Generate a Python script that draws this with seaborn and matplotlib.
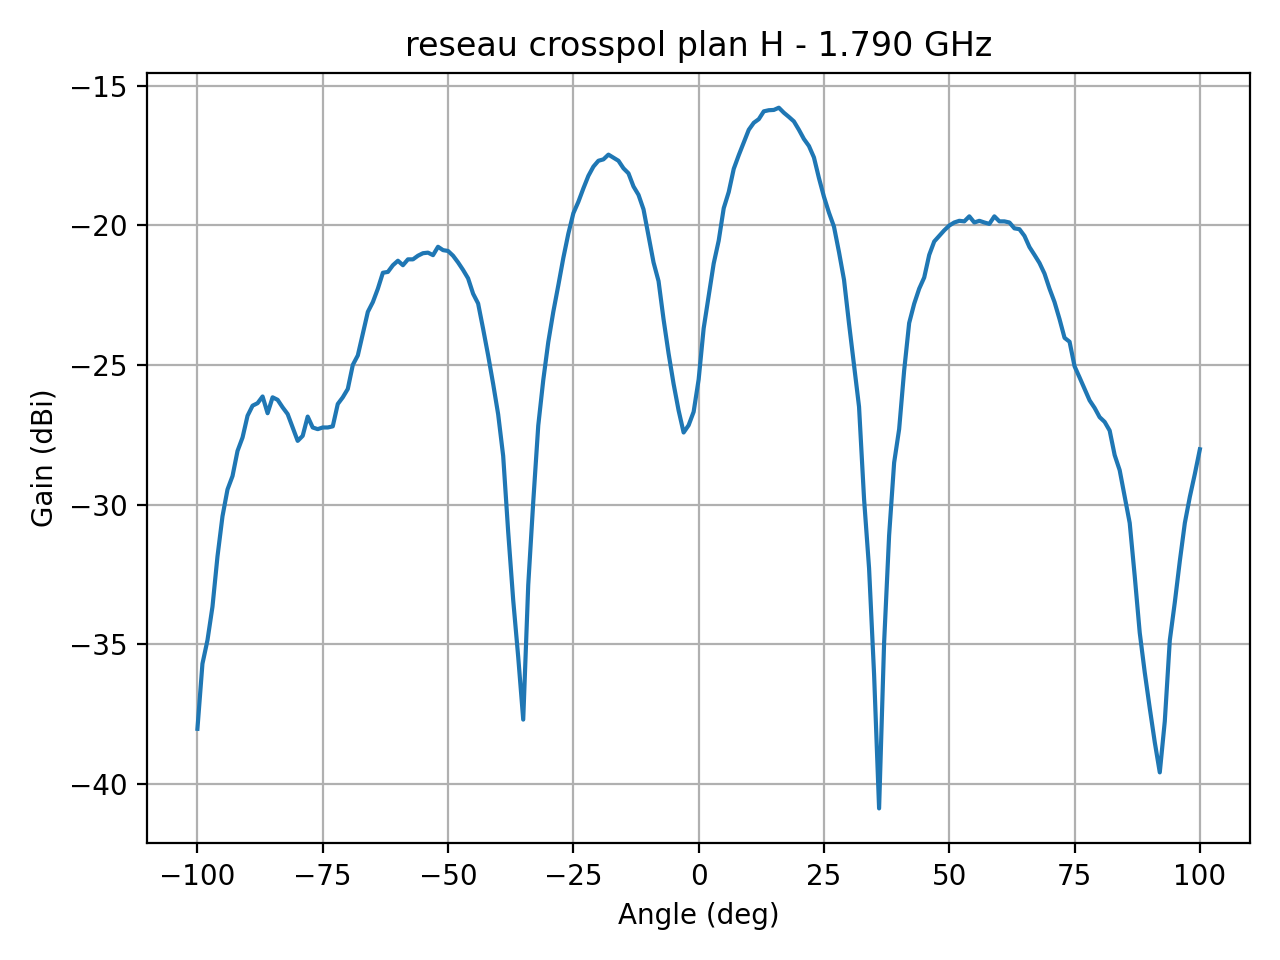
import numpy as np
import pandas as pd
import matplotlib
matplotlib.use('Agg')
import matplotlib.pyplot as plt
import seaborn as sns

# Measurement angles (deg), one point per degree
angles = np.arange(-100, 101)

# Cross-pol gain (dBi)
gain = [
    -38.03, -35.70, -34.86, -33.66, -31.86, -30.42, -29.46, -28.98, -28.08, -27.60,  # -100..-91
    -26.82, -26.46, -26.37, -26.13, -26.73, -26.16, -26.25, -26.52, -26.76, -27.24,  # -90..-81
    -27.72, -27.54, -26.85, -27.24, -27.30, -27.24, -27.24, -27.20, -26.40, -26.16,  # -80..-71
    -25.86, -25.00, -24.66, -23.88, -23.10, -22.75, -22.27, -21.70, -21.67, -21.43,  # -70..-61
    -21.27, -21.43, -21.22, -21.22, -21.09, -21.00, -20.98, -21.07, -20.77, -20.89,  # -60..-51
    -20.92, -21.09, -21.33, -21.60, -21.90, -22.45, -22.80, -23.71, -24.66, -25.68,  # -50..-41
    -26.77, -28.26, -30.98, -33.42, -35.46, -37.70, -32.88, -29.90, -27.17, -25.54,  # -40..-31
    -24.18, -23.10, -22.15, -21.17, -20.30, -19.57, -19.16, -18.68, -18.23, -17.90,  # -30..-21
    -17.69, -17.64, -17.47, -17.58, -17.69, -17.96, -18.14, -18.61, -18.91, -19.43,  # -20..-11
    -20.38, -21.33, -22.00, -23.37, -24.59, -25.68, -26.63, -27.42, -27.16, -26.68,  # -10..-1
    -25.52, -23.69, -22.53, -21.37, -20.55, -19.39, -18.81, -17.98, -17.49, -17.04,  # 0..9
    -16.58, -16.33, -16.20, -15.92, -15.88, -15.87, -15.79, -15.97, -16.12, -16.28,  # 10..19
    -16.58, -16.91, -17.16, -17.57, -18.31, -18.98, -19.55, -20.05, -20.96, -21.95,  # 20..29
    -23.52, -25.00, -26.50, -29.80, -32.28, -36.08, -40.88, -34.95, -31.10, -28.50,  # 30..39
    -27.30, -25.20, -23.50, -22.81, -22.27, -21.87, -21.06, -20.58, -20.38, -20.18,  # 40..49
    -20.01, -19.90, -19.84, -19.86, -19.68, -19.90, -19.84, -19.90, -19.95, -19.68,  # 50..59
    -19.86, -19.86, -19.90, -20.11, -20.14, -20.38, -20.78, -21.06, -21.35, -21.73,  # 60..69
    -22.27, -22.75, -23.36, -24.03, -24.17, -25.05, -25.45, -25.86, -26.27, -26.54,  # 70..79
    -26.87, -27.04, -27.35, -28.23, -28.77, -29.72, -30.66, -32.56, -34.59, -36.01,  # 80..89
    -37.29, -38.51, -39.59, -37.76, -34.86, -33.50, -32.02, -30.66, -29.72, -28.90,  # 90..99
    -28.02,                                                                          # 100
]

df = pd.DataFrame({'Angle (deg)': angles, 'Gain (dBi)': gain})

fig, ax = plt.subplots(figsize=(6.4, 4.8), dpi=200)
sns.lineplot(data=df, x='Angle (deg)', y='Gain (dBi)', color='#1f77b4',
             lw=1.5, ax=ax)
ax.grid(True, color='#b0b0b0', lw=0.8)
ax.set_title('reseau crosspol plan H - 1.790 GHz')
ax.set_xlabel('Angle (deg)')
ax.set_ylabel('Gain (dBi)')
fig.tight_layout()
fig.savefig('out.png', dpi=200)
